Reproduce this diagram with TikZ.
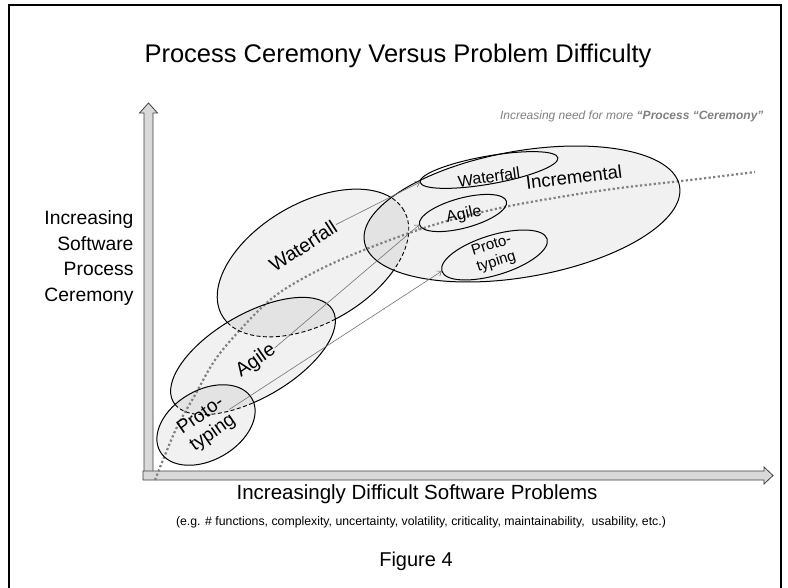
\documentclass[tikz,border=0pt]{standalone}
\usepackage{fontspec}
\setmainfont{Liberation Sans}
\usetikzlibrary{arrows.meta,shapes.geometric}
% ellipse path for clipping: cx, cy, a, b, angle of a, angle of b
\newcommand\ellpth[6]{\pgfpathellipse{\pgfpoint{#1pt}{#2pt}}{\pgfpointpolar{#5}{#3pt}}{\pgfpointpolar{#6}{#4pt}}}
\begin{document}
\begin{tikzpicture}[x=1pt,y=1pt,
  border/.style={line width=1pt, black},
  hidden/.style={line width=0.9pt, black, dash pattern=on 4pt off 2.5pt},
  shade/.style={fill=black, fill opacity=0.055},
  lbl/.style={font=\fontsize{19.5}{22}\selectfont, inner sep=1pt, align=center},
  inell/.style={ellipse, draw, line width=1pt, inner sep=0pt, outer sep=0pt},
  arr/.style={draw=black!55, line width=0.6pt, -{Straight Barb[length=4pt,width=6pt]}},
  axisarrow/.style={fill=black!15, draw=black!75, line width=0.8pt}]

\useasboundingbox (0,0) rectangle (788,-588);
\clip (0,0) rectangle (788,-588);
\fill[white] (0,0) rectangle (788,-588);

% frame
\draw[line width=1.8pt] (9,-600) -- (9,-5) -- (781,-5) -- (781,-600);

% texts
\node[font=\fontsize{25.5}{30}\selectfont] (title) at (398,-56) {Process Ceremony Versus Problem Difficulty};
\node[anchor=east, text=black!50, font=\fontsize{12}{14}\selectfont\itshape] (need) at (767,-116) {Increasing need for more \textbf{“Process “Ceremony”}};
\node[anchor=east, align=right, font=\fontsize{19.3}{25.5}\selectfont] (ylab) at (137,-258) {Increasing\\Software\\Process\\Ceremony};
\node[font=\fontsize{20.5}{24}\selectfont] (xlab) at (417,-494) {Increasingly Difficult Software Problems};
\node[font=\fontsize{12.3}{14}\selectfont] (xsub) at (421,-522) {(e.g. \# functions, complexity, uncertainty, volatility, criticality, maintainability,\ \ usability, etc.)};
\node[font=\fontsize{20}{24}\selectfont] (fig) at (416,-561) {Figure 4};

% fills
\fill[shade, rotate around={30:(313,-263)}] (313,-263) ellipse [x radius=105pt, y radius=60pt];
\fill[shade, rotate around={30:(253,-356)}] (253,-356) ellipse [x radius=92pt, y radius=42pt];
\fill[shade, rotate around={30:(206,-425)}] (206,-425) ellipse [x radius=53pt, y radius=35pt];
\fill[shade, rotate around={10:(522,-214)}] (522,-214) ellipse [x radius=160pt, y radius=63pt];

% axes
\draw[axisarrow] (144,-476) -- (144,-113) -- (139.5,-113) -- (148.5,-103) -- (157.5,-113) -- (153,-113) -- (153,-476) -- cycle;
\draw[axisarrow] (143,-471) -- (764,-471) -- (764,-467) -- (773,-475.5) -- (764,-484) -- (764,-480) -- (143,-480) -- cycle;

% dotted trend curve
\draw[black!50, line width=2.2pt, dash pattern=on 2.2pt off 2.4pt] plot[smooth, tension=0.6] coordinates {(155,-480) (165,-455) (178,-425) (195,-395) (215,-360) (240,-330) (270,-300) (300,-280) (340,-260) (390,-240) (440,-223) (500,-208) (560,-197) (620,-188) (690,-180) (755,-172)};

% Waterfall (big) border: solid outside Agile and Incremental
\begin{scope}
  \pgfseteorule
  \pgfpathrectanglecorners{\pgfpoint{-20pt}{-620pt}}{\pgfpoint{820pt}{20pt}}
  \ellpth{253}{-356}{92}{42}{30}{-60}
  \ellpth{522}{-214}{160}{63}{10}{-80}
  \pgfusepath{clip}
  \draw[border, rotate around={30:(313,-263)}] (313,-263) ellipse [x radius=105pt, y radius=60pt];
\end{scope}
\begin{scope}
  \ellpth{253}{-356}{92}{42}{30}{120}
  \ellpth{522}{-214}{160}{63}{10}{100}
  \pgfusepath{clip}
  \draw[hidden, rotate around={30:(313,-263)}] (313,-263) ellipse [x radius=105pt, y radius=60pt];
\end{scope}
% Agile border: solid outside Prototyping
\begin{scope}
  \pgfseteorule
  \pgfpathrectanglecorners{\pgfpoint{-20pt}{-620pt}}{\pgfpoint{820pt}{20pt}}
  \ellpth{206}{-425}{53}{35}{30}{-60}
  \pgfusepath{clip}
  \draw[border, rotate around={30:(253,-356)}] (253,-356) ellipse [x radius=92pt, y radius=42pt];
\end{scope}
\begin{scope}
  \ellpth{206}{-425}{53}{35}{30}{120}
  \pgfusepath{clip}
  \draw[hidden, rotate around={30:(253,-356)}] (253,-356) ellipse [x radius=92pt, y radius=42pt];
\end{scope}
\draw[border, rotate around={30:(206,-425)}] (206,-425) ellipse [x radius=53pt, y radius=35pt];
\draw[border, rotate around={10:(522,-214)}] (522,-214) ellipse [x radius=160pt, y radius=63pt];

% inner ellipses
\node[inell, rotate=10, minimum width=140pt, minimum height=28pt] (iW) at (489,-170) {};
\node[inell, rotate=15, minimum width=90pt, minimum height=30pt] (iA) at (463,-213) {};
\node[inell, rotate=17, minimum width=110pt, minimum height=40pt] (iP) at (494.5,-255) {};

% labels
\node[lbl, rotate=33] (lW) at (303,-246) {Waterfall};
\node[lbl, rotate=35] (lA) at (256,-361) {Agile};
\node[lbl, rotate=35, font=\fontsize{19}{21}\selectfont] (lP) at (207,-425) {Proto-\\typing};
\node[lbl, rotate=8, font=\fontsize{16}{18}\selectfont] (liW) at (489,-177) {Waterfall};
\node[lbl, rotate=7, font=\fontsize{18.5}{20}\selectfont] (liI) at (574,-177) {Incremental};
\node[lbl, rotate=12, font=\fontsize{16}{18}\selectfont] (liA) at (464,-215) {Agile};
\node[lbl, rotate=17, font=\fontsize{15}{17}\selectfont] (liP) at (494,-254) {Proto-\\typing};

% connectors
\draw[arr] (lW.east) -- (iW.west);
\draw[arr] (lA.east) -- (iA.west);
\draw[arr] (lP.east) -- (iP.west);
\end{tikzpicture}
\end{document}
